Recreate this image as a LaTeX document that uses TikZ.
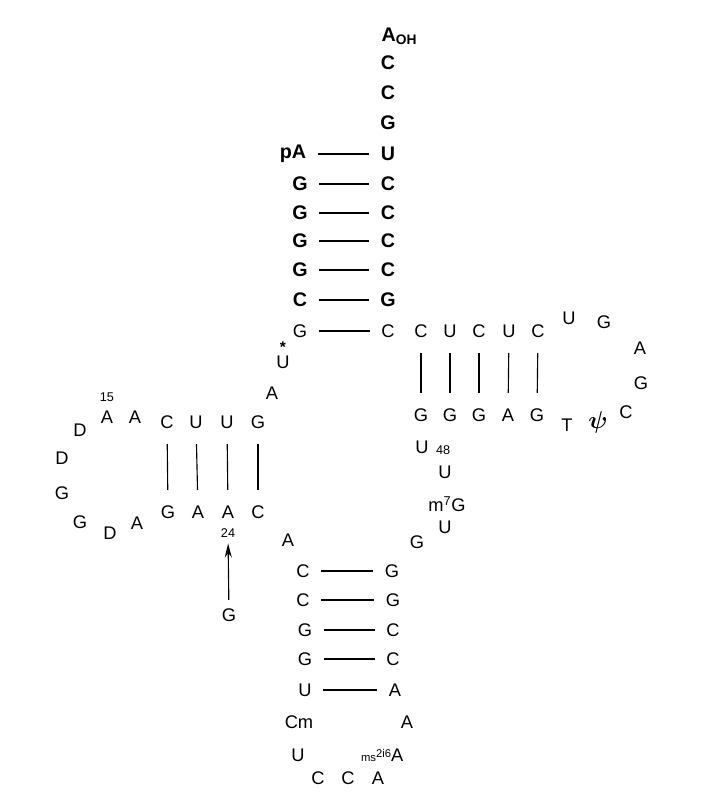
\documentclass[tikz,border=0pt]{standalone}
\usepackage{fontspec}
\setmainfont{Liberation Sans}
\usepackage{bm}
\usepackage{tikz}
\usetikzlibrary{positioning,arrows.meta}

\begin{document}
\begin{tikzpicture}[
  x=0.025cm, y=-0.025cm,
  nt/.style={inner sep=1pt, font=\fontsize{13}{15}\selectfont},
  acc/.style={inner sep=1pt, font=\fontsize{14}{16}\selectfont\bfseries},
  num/.style={inner sep=0pt, font=\fontsize{9}{10}\selectfont},
  star/.style={inner sep=0pt, font=\fontsize{11}{13}\selectfont\bfseries},
  hbond/.style={thick, shorten <=7pt, shorten >=7pt},
  vbond/.style={thick, shorten <=10pt, shorten >=10pt},
  arr/.style={thick, -{Stealth[length=10pt,width=5pt]}, shorten <=5pt, shorten >=4pt}]
  \useasboundingbox (0,0) rectangle (722,811);
  % acceptor stem
  \node[acc, anchor=west] (n76) at (380,36) {A\textsubscript{OH}};
  \node[acc] (n75) at (388,63) {C};
  \node[acc] (n74) at (388,93) {C};
  \node[acc] (n73) at (388,123) {G};
  \node[acc] (n72) at (388,154) {U};
  \node[acc] (n71) at (388,184) {C};
  \node[acc] (n70) at (388,213) {C};
  \node[acc] (n69) at (388,241) {C};
  \node[acc] (n68) at (388,270) {C};
  \node[acc] (n67) at (388,300) {G};
  \node[nt] (n66) at (388,331) {C};
  \node[acc] (n1) at (293,154) {pA};
  \node[acc] (n2) at (300,184) {G};
  \node[acc] (n3) at (300,213) {G};
  \node[acc] (n4) at (300,241) {G};
  \node[acc] (n5) at (300,270) {G};
  \node[acc] (n6) at (300,300) {C};
  \node[nt] (n7) at (300,331) {G};
  \node[nt, label={[star, label distance=1pt]above:*}] (n8) at (283,362) {U};
  \node[nt] (n9) at (272,393) {A};
  % D arm
  \node[nt] (n10) at (258,422) {G};
  \node[nt] (n11) at (227,422) {U};
  \node[nt] (n12) at (196,422) {U};
  \node[nt] (n13) at (167,422) {C};
  \node[nt] (n14) at (135,417) {A};
  \node[nt] (n15) at (107,417) {A};
  \node[nt] (n16) at (80,430) {D};
  \node[nt] (n17) at (62,458) {D};
  \node[nt] (n18) at (62,493) {G};
  \node[nt] (n19) at (80,522) {G};
  \node[nt] (n20) at (110,533) {D};
  \node[nt] (n21) at (137,523) {A};
  \node[nt] (n22) at (168,512) {G};
  \node[nt] (n23) at (198,512) {A};
  \node[nt] (n24) at (228,512) {A};
  \node[nt] (n25) at (258,512) {C};
  \node[nt] (n26) at (288,540) {A};
  \node[num, above=5pt of n15] (l15) {15};
  \node[num, below=6pt of n24] (l24) {24};
  \node[nt] (g24) at (229,615) {G};
  % anticodon arm
  \node[nt] (n27) at (303,571) {C};
  \node[nt] (n28) at (303,600) {C};
  \node[nt] (n29) at (305,630) {G};
  \node[nt] (n30) at (305,659) {G};
  \node[nt] (n31) at (305,690) {U};
  \node[nt] (n32) at (299,722) {Cm};
  \node[nt] (n33) at (298,755) {U};
  \node[nt] (n34) at (318,778) {C};
  \node[nt] (n35) at (348,778) {C};
  \node[nt] (n36) at (378,778) {A};
  \node[nt, anchor=east] (n37) at (405,755) {{\fontsize{8}{9}\selectfont ms\raisebox{2.5pt}{2i6}}A};
  \node[nt] (n38) at (407,722) {A};
  \node[nt] (n39) at (395,690) {A};
  \node[nt] (n40) at (393,659) {C};
  \node[nt] (n41) at (393,630) {C};
  \node[nt] (n42) at (393,600) {G};
  \node[nt] (n43) at (392,571) {G};
  % variable loop
  \node[nt] (n44) at (417,542) {G};
  \node[nt] (n45) at (445,527) {U};
  \node[nt] (n46) at (447,504) {m\textsuperscript{7}G};
  \node[nt] (n47) at (445,472) {U};
  \node[nt] (n48) at (422,447) {U};
  \node[num, right=4pt of n48, yshift=-2pt] (l48) {48};
  % T arm
  \node[nt] (n49) at (421,415) {G};
  \node[nt] (n50) at (450,415) {G};
  \node[nt] (n51) at (479,415) {G};
  \node[nt] (n52) at (508,415) {A};
  \node[nt] (n53) at (537,415) {G};
  \node[nt] (n54) at (567,425) {T};
  \node[nt, font=\fontsize{17}{19}\selectfont] (n55) at (598,422) {$\bm{\psi}$};
  \node[nt] (n56) at (626,412) {C};
  \node[nt] (n57) at (641,383) {G};
  \node[nt] (n58) at (640,348) {A};
  \node[nt] (n59) at (604,322) {G};
  \node[nt] (n60) at (569,318) {U};
  \node[nt] (n61) at (538,331) {C};
  \node[nt] (n62) at (509,331) {U};
  \node[nt] (n63) at (479,331) {C};
  \node[nt] (n64) at (450,331) {U};
  \node[nt] (n65) at (421,331) {C};
  % pairs
  \draw[hbond] (n1) -- (n72);
  \draw[hbond] (n2) -- (n71);
  \draw[hbond] (n3) -- (n70);
  \draw[hbond] (n4) -- (n69);
  \draw[hbond] (n5) -- (n68);
  \draw[hbond] (n6) -- (n67);
  \draw[hbond] (n7) -- (n66);
  \draw[vbond] (n10) -- (n25);
  \draw[vbond] (n11) -- (n24);
  \draw[vbond] (n12) -- (n23);
  \draw[vbond] (n13) -- (n22);
  \draw[hbond] (n27) -- (n43);
  \draw[hbond] (n28) -- (n42);
  \draw[hbond] (n29) -- (n41);
  \draw[hbond] (n30) -- (n40);
  \draw[hbond] (n31) -- (n39);
  \draw[vbond] (n65) -- (n49);
  \draw[vbond] (n64) -- (n50);
  \draw[vbond] (n63) -- (n51);
  \draw[vbond] (n62) -- (n52);
  \draw[vbond] (n61) -- (n53);
  \draw[arr] (g24) -- (l24);
\end{tikzpicture}
\end{document}
